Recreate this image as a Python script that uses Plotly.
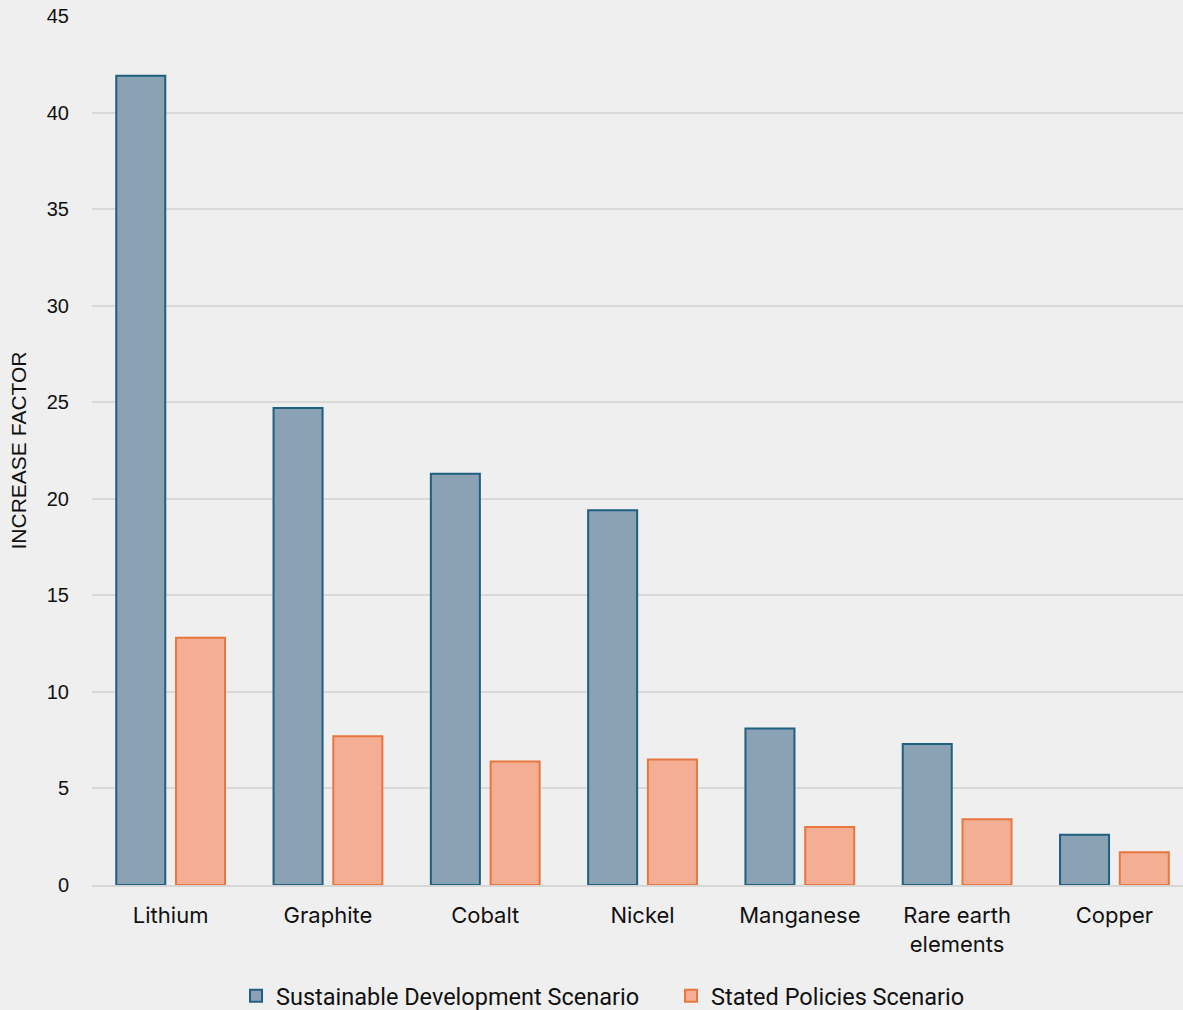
import plotly.graph_objects as go

categories = ["Lithium", "Graphite", "Cobalt", "Nickel", "Manganese", "Rare earth<br>elements", "Copper"]
sds_values = [41.9, 24.7, 21.3, 19.4, 8.1, 7.3, 2.6]
sps_values = [12.8, 7.7, 6.4, 6.5, 3.0, 3.4, 1.7]
y_ticks = [0, 5, 10, 15, 20, 25, 30, 35, 40, 45]

fig = go.Figure()
fig.add_trace(go.Bar(
    x=categories, y=sds_values, name="Sustainable Development Scenario",
    marker=dict(color="#8ba2b5", line=dict(color="#1f5f80", width=2)),
))
fig.add_trace(go.Bar(
    x=categories, y=sps_values, name="Stated Policies Scenario",
    marker=dict(color="#f4ae94", line=dict(color="#e8763f", width=2)),
))

fig.update_layout(
    width=1183, height=1010,
    margin=dict(l=92, r=0, t=16, b=125, autoexpand=False),
    paper_bgcolor="#efefef", plot_bgcolor="#efefef",
    barmode="group", bargap=0.24, bargroupgap=0.18,
    font=dict(family="Liberation Sans, Arial, sans-serif", size=20, color="#111111"),
    legend=dict(orientation="h", x=0.132, xanchor="left", y=-0.153, yanchor="bottom",
                font=dict(size=23.5, family="Roboto, sans-serif"),
                entrywidth=390, entrywidthmode="pixels", itemwidth=30, tracegroupgap=0),
    showlegend=True,
)
fig.update_xaxes(range=[-0.5, 6.436], tickfont=dict(size=22, family="Inter, Liberation Sans, sans-serif"),
                 showline=True, linecolor="#d6d6d6", linewidth=2, ticks="", ticklabelstandoff=10)
fig.update_yaxes(range=[0, 45], tickvals=y_ticks, gridcolor="#d9d9d9", gridwidth=2,
                 zeroline=False, ticks="", ticklabelstandoff=22,
                 title=dict(text="INCREASE FACTOR", font=dict(size=21), standoff=14),
                 tickfont=dict(size=20))

fig.write_html("out.html")
